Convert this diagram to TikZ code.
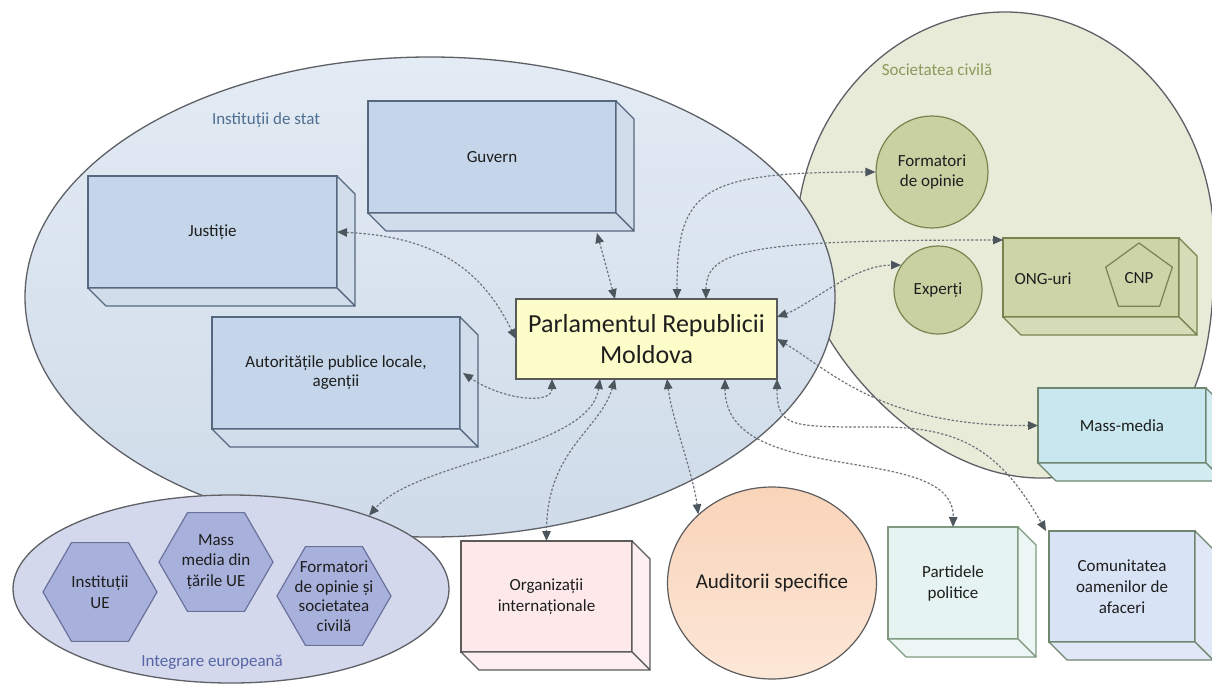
\documentclass[tikz,border=0pt]{standalone}
\usepackage{fontspec}
\setmainfont{Carlito}
\usetikzlibrary{shapes.geometric,arrows.meta,calc}

\definecolor{statfillA}{HTML}{E3EBF4}
\definecolor{statfillB}{HTML}{CFDBE9}
\definecolor{ellline}{HTML}{5E6066}
\definecolor{civfill}{HTML}{E7EBD8}
\definecolor{eufill}{HTML}{D4D8EC}
\definecolor{bluefront}{HTML}{C6D6EA}
\definecolor{blueside}{HTML}{D2DDEC}
\definecolor{blueline}{HTML}{56687E}
\definecolor{parlfill}{HTML}{FDFDC9}
\definecolor{parlline}{HTML}{5A5A5A}
\definecolor{olivefill}{HTML}{C9D1A3}
\definecolor{oliveline}{HTML}{77844F}
\definecolor{ongfront}{HTML}{CCD4A8}
\definecolor{ongside}{HTML}{D6DCB8}
\definecolor{mmfront}{HTML}{C8E7EF}
\definecolor{mmside}{HTML}{D3ECF2}
\definecolor{greenline}{HTML}{6F8670}
\definecolor{orgfront}{HTML}{FDE9EA}
\definecolor{orgside}{HTML}{FDEFEF}
\definecolor{grayline}{HTML}{5C5C5C}
\definecolor{audA}{HTML}{F9D4B9}
\definecolor{audB}{HTML}{FCE7D7}
\definecolor{partfront}{HTML}{E6F4F1}
\definecolor{partside}{HTML}{ECF6F4}
\definecolor{partline}{HTML}{7F9A80}
\definecolor{comfront}{HTML}{D9E3F6}
\definecolor{comside}{HTML}{E0E7F7}
\definecolor{hexfill}{HTML}{A8B1DC}
\definecolor{hexline}{HTML}{6A729C}
\definecolor{linkgray}{HTML}{6E757B}
\definecolor{tipgray}{HTML}{4E565D}
\definecolor{txt}{HTML}{1E1E1E}
\definecolor{stattxt}{HTML}{4F6E8F}
\definecolor{civtxt}{HTML}{8B9A5B}
\definecolor{eutxt}{HTML}{5565A5}

\newcommand\boxsides[3]{%
  \filldraw[fill=#2, draw=#3, line width=1.2pt, line join=round]
    (#1.north east) -- ($(#1.north east)+(18,18)$) -- ($(#1.south east)+(18,18)$) -- (#1.south east) -- cycle;
  \filldraw[fill=#2, draw=#3, line width=1.2pt, line join=round]
    (#1.south west) -- ($(#1.south west)+(18,18)$) -- ($(#1.south east)+(18,18)$) -- (#1.south east) -- cycle;}

\tikzset{
  lbl/.style={font=\fontsize{17}{20}\selectfont, text=txt, align=center},
  frontface/.style={draw=#1, line width=1.2pt, outer sep=0pt, inner sep=2pt, align=center,
    text=txt, font=\fontsize{17}{21}\selectfont},
  roundel/.style={circle, draw=oliveline, fill=olivefill, line width=1.2pt, inner sep=0pt,
    align=center, text=txt, font=\fontsize{17}{20}\selectfont},
  hexa/.style={regular polygon, regular polygon sides=6, draw=hexline, fill=hexfill,
    line width=1.2pt, inner sep=0pt, minimum size=114pt},
  link/.style={draw=linkgray, line width=1.2pt, dash pattern=on 2.4pt off 1.8pt,
    {Triangle[length=10pt,width=8.5pt,color=tipgray]}-{Triangle[length=10pt,width=8.5pt,color=tipgray]}},
}

\begin{document}
\begin{tikzpicture}[x=1pt,y=-1pt]
\useasboundingbox (0,0) rectangle (1212,685);
\clip (0,0) rectangle (1212,685);
\fill[white] (0,0) rectangle (1212,685);

% Societatea civila (background shape)
\path[draw=ellline, fill=civfill, line width=1.3pt]
  (796,243.5) .. controls (796,115.6) and (889.6,12) .. (1005,12)
  .. controls (1120.4,12) and (1214,115.6) .. (1214,243.5)
  .. controls (1216,390) and (1180,478) .. (1040,478)
  .. controls (920,478) and (800,340) .. cycle;

% Institutii de stat
\node[ellipse, draw=ellline, line width=1.3pt, top color=statfillA, bottom color=statfillB,
  minimum width=810pt, minimum height=480pt] (stat) at (430,297) {};

% Integrare europeana
\node[ellipse, draw=ellline, line width=1.3pt, fill=eufill,
  minimum width=436pt, minimum height=188pt] (eu) at (231,589) {};

% labels of groups
\node[font=\fontsize{17}{20}\selectfont, text=stattxt] (statlbl) at (266,120) {Instituții de stat};
\node[font=\fontsize{17}{20}\selectfont, text=civtxt] (civlbl) at (937,70) {Societatea civilă};
\node[font=\fontsize{17}{20}\selectfont, text=eutxt] (eulbl) at (212,662) {Integrare europeană};

% state institutions
\node[frontface=blueline, fill=bluefront, minimum width=249pt, minimum height=112pt] (just) at (212.5,232) {Justiție};
\boxsides{just}{blueside}{blueline}
\node[frontface=blueline, fill=bluefront, minimum width=248pt, minimum height=112pt] (guv) at (492,157) {Guvern};
\boxsides{guv}{blueside}{blueline}
\node[frontface=blueline, fill=bluefront, minimum width=248pt, minimum height=112pt, font=\fontsize{17}{19}\selectfont] (aut) at (336,373) {Autoritățile publice locale,\\agenții};
\boxsides{aut}{blueside}{blueline}

% parliament
\node[draw=parlline, fill=parlfill, line width=1.2pt, outer sep=0pt, minimum width=261pt,
  minimum height=80pt, align=center, text=txt, font=\fontsize{26}{31}\selectfont] (parl) at (646.5,339) {Parlamentul Republicii\\Moldova};

% civil society
\node[roundel, minimum size=112pt] (form) at (932,172) {Formatori\\de opinie};
\node[roundel, minimum size=88pt] (exp) at (938,290) {Experți};
\node[frontface=oliveline, fill=ongfront, minimum width=176pt, minimum height=79pt] (ong) at (1091,277.5) {};
\boxsides{ong}{ongside}{oliveline}
\node[lbl, anchor=west] (ongtxt) at (1011,279) {ONG-uri};
\node[regular polygon, regular polygon sides=5, draw=oliveline, fill=ongfront, line width=1.2pt,
  minimum size=70pt, inner sep=0pt, text=txt, font=\fontsize{17}{20}\selectfont] (cnp) at (1139,278) {CNP};
\node[frontface=greenline, fill=mmfront, minimum width=168pt, minimum height=75pt] (mm) at (1122,425.5) {Mass-media};
\boxsides{mm}{mmside}{greenline}

% lower row
\node[frontface=grayline, fill=orgfront, minimum width=171pt, minimum height=111pt] (org) at (546.5,596.5) {Organizații\\internaționale};
\boxsides{org}{orgside}{grayline}
\node[ellipse, draw=grayline, line width=1.2pt, top color=audA, bottom color=audB,
  minimum width=209pt, minimum height=192pt, inner sep=0pt] (aud) at (772,583) {};
\node[font=\fontsize{21}{25}\selectfont, text=txt] (audtxt) at (aud.center) {Auditorii specifice};
\node[frontface=partline, fill=partfront, minimum width=130pt, minimum height=112pt] (part) at (953,583) {Partidele\\politice};
\boxsides{part}{partside}{partline}
\node[frontface=greenline, fill=comfront, minimum width=146pt, minimum height=111pt] (com) at (1122,586.5) {Comunitatea\\oamenilor de\\afaceri};
\boxsides{com}{comside}{greenline}

% european integration
\node[hexa] (h1) at (100,592) {};
\node[lbl, font=\fontsize{17}{21}\selectfont] (h1txt) at (h1.center) {Instituții\\UE};
\node[hexa] (h2) at (216,562) {};
\node[lbl, font=\fontsize{17}{20.5}\selectfont] (h2txt) at (h2.center) {Mass\\media din\\țările UE};
\node[hexa] (h3) at (334,596) {};
\node[lbl, font=\fontsize{17}{19.5}\selectfont] (h3txt) at (h3.center) {Formatori\\de opinie și\\societatea\\civilă};

% connectors
\coordinate (combend) at (880,427);
\draw[link] (just.east) .. controls +(110,5) and +(-30,-60) .. (parl.west);
\draw[link] ([xshift=-19pt,yshift=-20pt]guv.south east) -- ([xshift=-31.5pt]parl.north);
\draw[link] ([xshift=30.5pt]parl.north) .. controls +(0,-109) and +(-176,0) .. (form.west);
\draw[link] ([xshift=59.5pt]parl.north) .. controls +(0,-50) and +(-250,0) .. ([yshift=-2pt]ong.north west);
\draw[link] ([yshift=22pt]parl.east) .. controls +(33,-12) and +(-48,0) .. (exp.146);
\draw[link] (parl.east) .. controls +(53,31) and +(-158,1) .. (mm.west);
\draw[link] ([xshift=209pt]parl.south west) .. controls +(0,111) and +(2,-87) .. (part.north);
\draw[link] (parl.south east) .. controls +(0,49) and +(-90,0) .. (combend)
  .. controls +(80,0) and +(-46,-81) .. ([xshift=-3pt]com.north west);
\draw[link] ([xshift=20.5pt]parl.south) .. controls +(5,40) and +(-5,-40) .. (aud.137);
\draw[link] ([xshift=99pt]parl.south west) .. controls +(-15,51) and +(0,-91) .. (org.north);
\draw[link] ([xshift=84pt]parl.south west) .. controls +(-10,71) and +(48,-55) .. (eu.28);
\draw[link] ([xshift=36pt]parl.south west) .. controls +(0,26) and +(40,27) .. ([xshift=3pt]aut.east);
\end{tikzpicture}
\end{document}
